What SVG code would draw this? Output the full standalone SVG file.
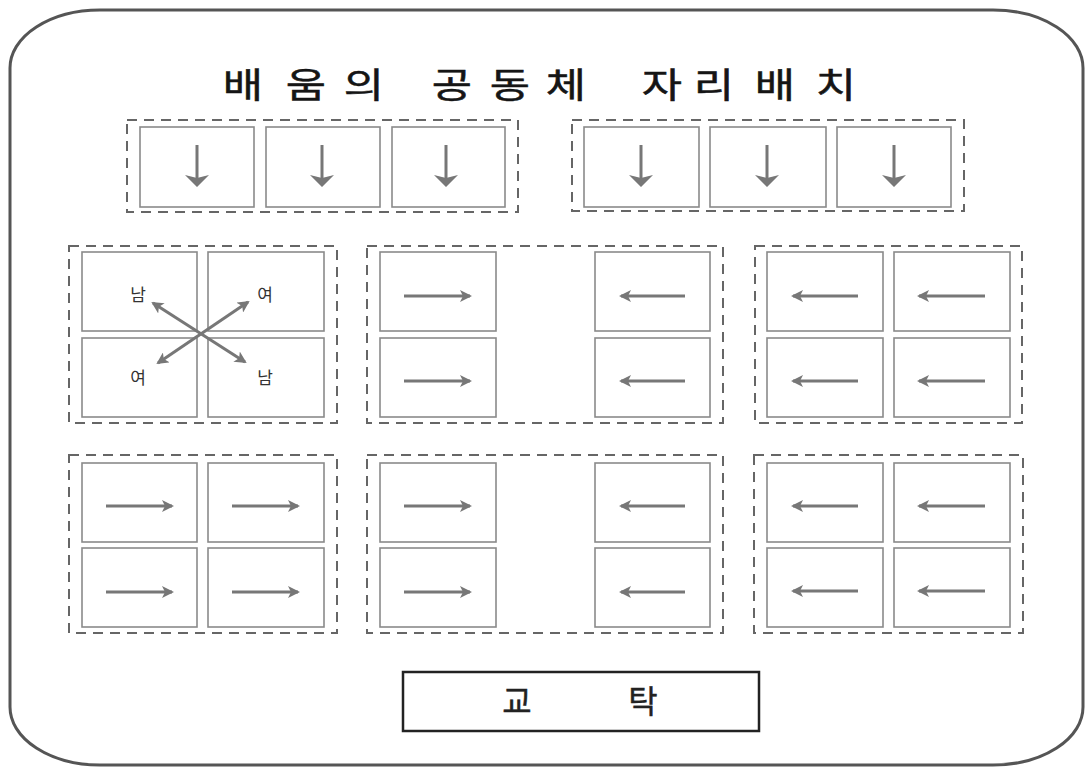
<svg xmlns="http://www.w3.org/2000/svg" width="1088" height="768" viewBox="0 0 1088 768">
<style>
.frame{fill:none;stroke:#555;stroke-width:3}
.grp{fill:none;stroke:#666;stroke-width:2;stroke-dasharray:10 7}
.cell{fill:#fff;stroke:#8a8a8a;stroke-width:1.6}
.arr{stroke:#777;stroke-width:3;fill:none}
.title{font-family:"Noto Sans CJK KR","Noto Sans",sans-serif;font-size:35px;fill:#151515;stroke:#151515;stroke-width:0.5;text-anchor:middle}
.lbl{font-family:"Noto Sans CJK KR","Noto Sans",sans-serif;font-size:17px;fill:#333;text-anchor:middle}
.desk{fill:#fff;stroke:#222;stroke-width:2.5}
.dtxt{font-family:"Noto Sans CJK KR","Noto Sans",sans-serif;font-size:32px;fill:#222;stroke:#222;stroke-width:0.4;text-anchor:middle}
</style>
<defs>
<marker id="ah" markerUnits="userSpaceOnUse" markerWidth="12" markerHeight="12" refX="10" refY="6" orient="auto-start-reverse" viewBox="0 0 12 12">
<path d="M0,0 L12,6 L0,12 L3,6 z" fill="#777"/>
</marker>
<marker id="ahd" markerUnits="userSpaceOnUse" markerWidth="12" markerHeight="24" refX="10" refY="12" orient="auto" viewBox="0 0 12 24">
<path d="M0,0 L12,12 L0,24 L3,12 z" fill="#777"/>
</marker>
</defs>
<rect width="1088" height="768" fill="#fff"/>
<path class="frame" d="M100,10 H993 A90,58 0 0 1 1083,68 V707 A90,58 0 0 1 993,765 H100 A90,58 0 0 1 10,707 V68 A90,58 0 0 1 100,10 Z"/>
<g id="title" transform="scale(1.25,1)">
<text class="title" x="194.4" y="98">배</text>
<text class="title" x="244.8" y="98">움</text>
<text class="title" x="291.2" y="98">의</text>
<text class="title" x="361.6" y="98">공</text>
<text class="title" x="408" y="98">동</text>
<text class="title" x="452.8" y="98">체</text>
<text class="title" x="529.6" y="98">자</text>
<text class="title" x="571.2" y="98">리</text>
<text class="title" x="620" y="98">배</text>
<text class="title" x="668.8" y="98">치</text>
</g>
<g id="front-left">
<rect class="grp" x="127" y="120" width="391" height="92"/>
<rect class="cell" x="140" y="127" width="114" height="80"/>
<rect class="cell" x="266" y="127" width="114" height="80"/>
<rect class="cell" x="392" y="127" width="113" height="80"/>
</g>
<g id="front-right">
<rect class="grp" x="572" y="120" width="392" height="91"/>
<rect class="cell" x="584" y="127" width="115" height="80"/>
<rect class="cell" x="710" y="127" width="116" height="80"/>
<rect class="cell" x="837" y="127" width="114" height="80"/>
</g>
<g id="mid-left">
<rect class="grp" x="69" y="246" width="268" height="177"/>
<rect class="cell" x="82" y="252" width="115" height="79"/>
<rect class="cell" x="208" y="252" width="116" height="79"/>
<rect class="cell" x="82" y="338" width="115" height="79"/>
<rect class="cell" x="208" y="338" width="116" height="79"/>
<text class="lbl" x="138" y="301">남</text>
<text class="lbl" x="265" y="301">여</text>
<text class="lbl" x="138" y="384">여</text>
<text class="lbl" x="265" y="384">남</text>
</g>
<g id="mid-center">
<rect class="grp" x="367" y="246" width="356" height="177"/>
<rect class="cell" x="380" y="252" width="116" height="79"/>
<rect class="cell" x="595" y="252" width="115" height="79"/>
<rect class="cell" x="380" y="338" width="116" height="79"/>
<rect class="cell" x="595" y="338" width="115" height="79"/>
</g>
<g id="mid-right">
<rect class="grp" x="755" y="246" width="267" height="177"/>
<rect class="cell" x="767" y="252" width="116" height="79"/>
<rect class="cell" x="894" y="252" width="116" height="79"/>
<rect class="cell" x="767" y="338" width="116" height="79"/>
<rect class="cell" x="894" y="338" width="116" height="79"/>
</g>
<g id="back-left">
<rect class="grp" x="69" y="455" width="268" height="178"/>
<rect class="cell" x="82" y="463" width="115" height="79"/>
<rect class="cell" x="208" y="463" width="116" height="79"/>
<rect class="cell" x="82" y="548" width="115" height="79"/>
<rect class="cell" x="208" y="548" width="116" height="79"/>
</g>
<g id="back-center">
<rect class="grp" x="367" y="455" width="356" height="178"/>
<rect class="cell" x="380" y="463" width="116" height="79"/>
<rect class="cell" x="595" y="463" width="115" height="79"/>
<rect class="cell" x="380" y="548" width="116" height="79"/>
<rect class="cell" x="595" y="548" width="115" height="79"/>
</g>
<g id="back-right">
<rect class="grp" x="754" y="455" width="269" height="178"/>
<rect class="cell" x="767" y="463" width="116" height="79"/>
<rect class="cell" x="894" y="463" width="116" height="79"/>
<rect class="cell" x="767" y="548" width="116" height="79"/>
<rect class="cell" x="894" y="548" width="116" height="79"/>
</g>
<g id="teacher-desk">
<rect class="desk" x="403" y="672" width="356" height="59"/>
<text class="dtxt" x="517" y="713">교</text>
<text class="dtxt" x="643" y="713">탁</text>
</g>
<g id="arrows">
<g class="arr" stroke-width="4.5">
<line x1="197" y1="145" x2="197" y2="185" marker-end="url(#ahd)"/>
<line x1="322" y1="145" x2="322" y2="185" marker-end="url(#ahd)"/>
<line x1="446" y1="145" x2="446" y2="185" marker-end="url(#ahd)"/>
<line x1="641" y1="145" x2="641" y2="185" marker-end="url(#ahd)"/>
<line x1="767" y1="145" x2="767" y2="185" marker-end="url(#ahd)"/>
<line x1="894" y1="145" x2="894" y2="185" marker-end="url(#ahd)"/>
</g>
<g class="arr">
<line x1="153" y1="303" x2="245" y2="362" marker-start="url(#ah)" marker-end="url(#ah)"/>
<line x1="158" y1="363" x2="248" y2="302" marker-start="url(#ah)" marker-end="url(#ah)"/>
<line x1="404" y1="296" x2="470" y2="296" marker-end="url(#ah)"/>
<line x1="404" y1="381" x2="470" y2="381" marker-end="url(#ah)"/>
<line x1="685" y1="296" x2="621" y2="296" marker-end="url(#ah)"/>
<line x1="685" y1="381" x2="621" y2="381" marker-end="url(#ah)"/>
<line x1="858" y1="296" x2="793" y2="296" marker-end="url(#ah)"/>
<line x1="985" y1="296" x2="919" y2="296" marker-end="url(#ah)"/>
<line x1="858" y1="381" x2="793" y2="381" marker-end="url(#ah)"/>
<line x1="985" y1="381" x2="919" y2="381" marker-end="url(#ah)"/>
<line x1="106" y1="506" x2="172" y2="506" marker-end="url(#ah)"/>
<line x1="232" y1="506" x2="298" y2="506" marker-end="url(#ah)"/>
<line x1="106" y1="592" x2="172" y2="592" marker-end="url(#ah)"/>
<line x1="232" y1="592" x2="298" y2="592" marker-end="url(#ah)"/>
<line x1="404" y1="506" x2="470" y2="506" marker-end="url(#ah)"/>
<line x1="404" y1="592" x2="470" y2="592" marker-end="url(#ah)"/>
<line x1="685" y1="506" x2="621" y2="506" marker-end="url(#ah)"/>
<line x1="685" y1="592" x2="621" y2="592" marker-end="url(#ah)"/>
<line x1="858" y1="506" x2="793" y2="506" marker-end="url(#ah)"/>
<line x1="985" y1="506" x2="919" y2="506" marker-end="url(#ah)"/>
<line x1="858" y1="591" x2="793" y2="591" marker-end="url(#ah)"/>
<line x1="985" y1="591" x2="919" y2="591" marker-end="url(#ah)"/>
</g>
</g>
</svg>
